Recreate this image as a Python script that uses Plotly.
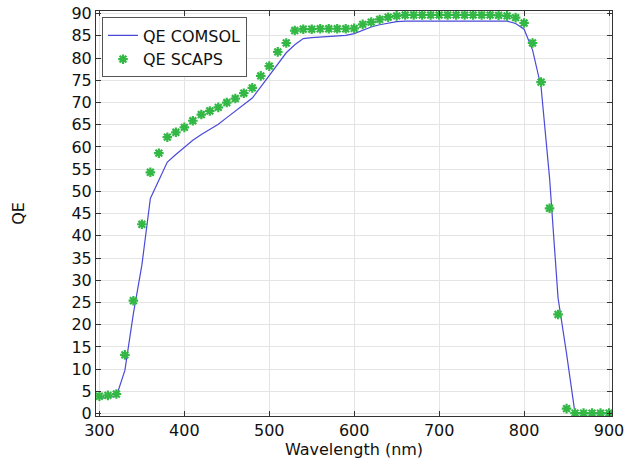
import plotly.graph_objects as go

# COMSOL line data
comsol_wl = [300, 310, 320, 330, 340, 350, 360, 370, 380, 390, 400, 410, 420, 430, 440,
             450, 460, 470, 480, 490, 500, 510, 520, 530, 540, 550, 560, 570, 580, 590,
             600, 610, 620, 630, 640, 650, 660, 670, 680, 690, 700, 710, 720, 730, 740,
             750, 760, 770, 780, 790, 800, 810, 820, 830, 840, 850, 860, 870, 880, 890, 900]
comsol_qe = [3.4, 3.6, 3.9, 9.7, 22.5, 33.4, 48.4, 52.5, 56.6, 58.3, 60.0, 61.5, 62.8, 63.9, 65.1,
             66.6, 68.0, 69.5, 71.0, 73.5, 76.1, 78.7, 81.2, 83.0, 84.4, 84.6, 84.7, 84.8, 84.9, 85.1,
             85.5, 86.3, 87.0, 87.5, 87.9, 88.2, 88.3, 88.3, 88.3, 88.3, 88.3, 88.3, 88.3, 88.3, 88.3,
             88.3, 88.3, 88.3, 88.3, 87.8, 86.5, 81.8, 73.5, 53.0, 26.0, 13.5, 0.0, 0.0, 0.0, 0.0, 0.0]

# SCAPS marker data
scaps_wl = comsol_wl
scaps_qe = [3.9, 4.1, 4.4, 13.2, 25.4, 42.6, 54.3, 58.6, 62.2, 63.3, 64.4, 65.9, 67.3, 68.1, 68.9,
            70.0, 70.9, 72.1, 73.3, 76.0, 78.2, 81.4, 83.4, 86.2, 86.5, 86.5, 86.6, 86.6, 86.6, 86.6,
            86.7, 87.6, 88.1, 88.7, 89.2, 89.5, 89.7, 89.7, 89.7, 89.7, 89.7, 89.7, 89.7, 89.7, 89.7,
            89.7, 89.7, 89.6, 89.5, 89.1, 87.9, 83.4, 74.6, 46.2, 22.3, 1.1, 0.1, 0.1, 0.1, 0.1, 0.1]

x_ticks = [300, 400, 500, 600, 700, 800, 900]
y_ticks = list(range(0, 91, 5))

FONT = "DejaVu Sans"

fig = go.Figure()
fig.add_trace(go.Scatter(
    x=comsol_wl, y=comsol_qe, mode="lines", name="QE COMSOL",
    line=dict(color="#4a4ad8", width=1.2),
))
fig.add_trace(go.Scatter(
    x=scaps_wl, y=scaps_qe, mode="markers", name="QE SCAPS",
    marker=dict(symbol="asterisk-open", size=8, color="#33b845",
                line=dict(color="#33b845", width=2.2)),
))

axis_common = dict(
    showgrid=True, gridcolor="#e4e4e4", gridwidth=1,
    showline=True, linecolor="#333333", linewidth=1,
    mirror="ticks", ticks="inside", ticklen=5, tickcolor="#333333",
    tickfont=dict(family=FONT, size=16, color="#111111"),
    zeroline=False,
)

fig.update_layout(
    width=626, height=461,
    margin=dict(l=96, r=14, t=11, b=45, autoexpand=False),
    paper_bgcolor="white", plot_bgcolor="white",
    font=dict(family=FONT, size=16, color="#111111"),
    showlegend=True,
    legend=dict(
        x=0.0116, y=0.984, xanchor="left", yanchor="top",
        bgcolor="white", bordercolor="#555555", borderwidth=1,
        font=dict(family=FONT, size=16, color="#111111"),
        tracegroupgap=0,
    ),
    xaxis=dict(
        range=[296, 903.5], tickvals=x_ticks,
        title=dict(text="Wavelength (nm)", font=dict(family=FONT, size=16), standoff=2),
        **axis_common,
    ),
    yaxis=dict(
        range=[-0.55, 90.6], tickvals=y_ticks,
        title=dict(text="QE", font=dict(family=FONT, size=16), standoff=42),
        **axis_common,
    ),
)

fig.write_html(
    "out.html",
    config={"displayModeBar": False},
    post_script="document.body.style.margin='0';document.body.style.overflow='hidden';",
)
